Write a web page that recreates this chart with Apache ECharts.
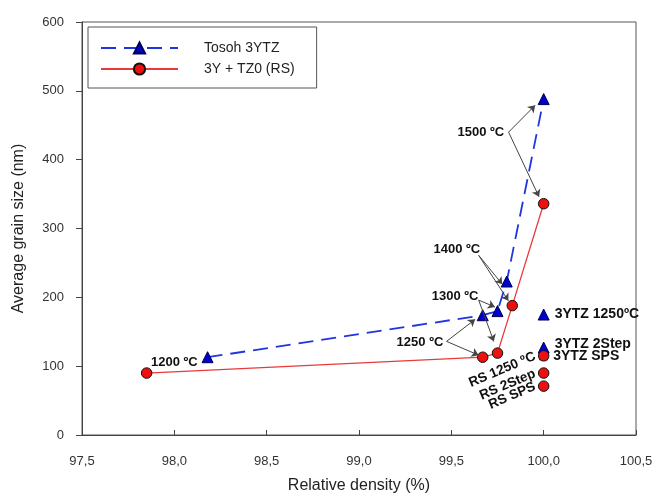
<!DOCTYPE html>
<html>
<head>
<meta charset="utf-8">
<script src="https://cdn.jsdelivr.net/npm/echarts@6/dist/echarts.min.js"></script>
<style>
  html, body { margin: 0; padding: 0; background: #fff; }
  #chart { width: 656px; height: 495px; }
</style>
</head>
<body>
<div id="chart"></div>
<script>
// 数据
const tosohX = [98.18, 99.67, 99.75, 99.80, 100.0];
const tosohY = [113, 174, 180, 223, 488];
const rsX = [97.85, 99.67, 99.75, 99.83, 100.0];
const rsY = [90, 113, 119, 188, 336];

const tosohExtraNames = ['3YTZ 1250ºC', '3YTZ 2Step', '3YTZ SPS'];
const tosohExtraY = [175, 127, 115];
const rsExtraNames = ['RS 1250 ºC', 'RS 2Step', 'RS SPS'];
const rsExtraY = [115, 90, 71];

const xTicks = ['97,5', '98,0', '98,5', '99,0', '99,5', '100,0', '100,5'];

// 注释文字 (数据坐标)
const notes = [
  { name: '1200 ºC', value: [98.0, 106] },
  { name: '1250 ºC', value: [99.33, 134] },
  { name: '1300 ºC', value: [99.52, 202] },
  { name: '1400 ºC', value: [99.53, 269] },
  { name: '1500 ºC', value: [99.66, 439] }
];
// 箭头 [起点, 终点]
const arrows = [
  [[99.81, 440], [99.954, 479]],
  [[99.81, 440], [99.975, 346]],
  [[99.648, 261], [99.776, 219]],
  [[99.648, 261], [99.809, 195]],
  [[99.648, 196], [99.736, 186]],
  [[99.648, 196], [99.730, 136]],
  [[99.474, 136], [99.629, 168]],
  [[99.474, 136], [99.648, 116]]
];

const zip = (xs, ys) => xs.map((x, i) => [x, ys[i]]);
const bold = { fontFamily: 'Liberation Sans, Arial', fontWeight: 'bold', fontSize: 13, color: '#111', opacity: 1 };
const blueItem = { color: '#0000d0', borderColor: '#000055', borderWidth: 1, opacity: 1 };
const redItem = { color: '#ee0f0f', borderColor: '#111', borderWidth: 1, opacity: 1 };

let myChart = echarts.init(document.getElementById('chart'));
let option = {
  animation: false,
  textStyle: { fontFamily: 'Liberation Sans, Arial' },
  grid: {
    left: 82, right: 20, top: 22, bottom: 60,
    outerBoundsMode: 'none',
    show: true, borderColor: '#555', borderWidth: 1, backgroundColor: '#fff'
  },
  legend: {
    data: ['Tosoh 3YTZ', '3Y + TZ0 (RS)'],
    orient: 'vertical',
    left: 88, top: 27,
    padding: [14, 22, 12, 12],
    itemWidth: 77, itemHeight: 14, itemGap: 7,
    borderColor: '#555', borderWidth: 1,
    textStyle: { fontSize: 14, color: '#222', padding: [0, 0, 0, 21] }
  },
  xAxis: {
    type: 'value',
    min: 97.5, max: 100.5, interval: 0.5,
    name: 'Relative density (%)',
    nameLocation: 'middle', nameGap: 43,
    nameTextStyle: { fontSize: 16, color: '#222' },
    axisLine: { lineStyle: { color: '#444' } },
    axisTick: { inside: true, length: 5, lineStyle: { color: '#444' } },
    axisLabel: {
      fontSize: 13, color: '#333', margin: 20,
      formatter: function (v) { return xTicks[Math.round((v - 97.5) / 0.5)]; }
    },
    splitLine: { show: false }
  },
  yAxis: {
    type: 'value',
    min: 0, max: 600, interval: 100,
    name: 'Average grain size (nm)',
    nameLocation: 'middle', nameGap: 55,
    nameTextStyle: { fontSize: 16, color: '#222' },
    axisLine: { show: true, lineStyle: { color: '#444' } },
    axisTick: { show: true, length: 6, lineStyle: { color: '#444' } },
    axisLabel: { fontSize: 13, color: '#333', margin: 18 },
    splitLine: { show: false }
  },
  series: [
    {
      name: 'arrows',
      type: 'scatter',
      data: [],
      markLine: {
        silent: true,
        symbol: ['none', 'arrow'],
        symbolSize: 7,
        label: { show: false },
        lineStyle: { color: '#444', width: 1, type: 'solid' },
        data: arrows.map(a => [{ coord: a[0] }, { coord: a[1] }])
      }
    },
    {
      name: 'Tosoh 3YTZ',
      type: 'line',
      data: zip(tosohX, tosohY),
      symbol: 'triangle', symbolSize: 11,
      itemStyle: blueItem,
      lineStyle: { color: '#1f35e0', width: 1.8, type: [15, 8] }
    },
    {
      name: 'tosohExtra',
      type: 'scatter',
      symbol: 'triangle',
      // SPS 点被红点遮住
      symbolSize: function (v, p) { return p.dataIndex === 2 ? 8 : 11; },
      itemStyle: blueItem,
      data: tosohExtraNames.map((n, i) => ({
        name: n,
        value: [100.0, tosohExtraY[i]],
        label: i === 1 ? { offset: [0, -3] } : {}
      })),
      label: Object.assign({ show: true, position: 'right', distance: 5, formatter: '{b}' }, bold, { fontSize: 14 })
    },
    {
      name: '3Y + TZ0 (RS)',
      type: 'line',
      data: zip(rsX, rsY),
      symbol: 'circle', symbolSize: 10.5,
      itemStyle: redItem,
      lineStyle: { color: '#e83a3a', width: 1.3 }
    },
    {
      name: 'rsExtra',
      type: 'scatter',
      symbol: 'circle', symbolSize: 10.5,
      itemStyle: redItem,
      data: rsExtraNames.map((n, i) => ({ name: n, value: [100.0, rsExtraY[i]] })),
      label: Object.assign({ show: true, position: 'left', distance: 3, rotate: 23, formatter: '{b}' }, bold, { fontSize: 13.5 })
    },
    {
      name: 'notes',
      type: 'scatter',
      symbol: 'circle',
      symbolSize: 1,
      itemStyle: { color: 'rgba(0,0,0,0)', opacity: 1 },
      data: notes,
      label: Object.assign({ show: true, position: 'inside', formatter: '{b}' }, bold)
    }
  ]
};
myChart.setOption(option);
window.addEventListener('resize', function () {
  myChart.resize();
});
</script>
</body>
</html>
